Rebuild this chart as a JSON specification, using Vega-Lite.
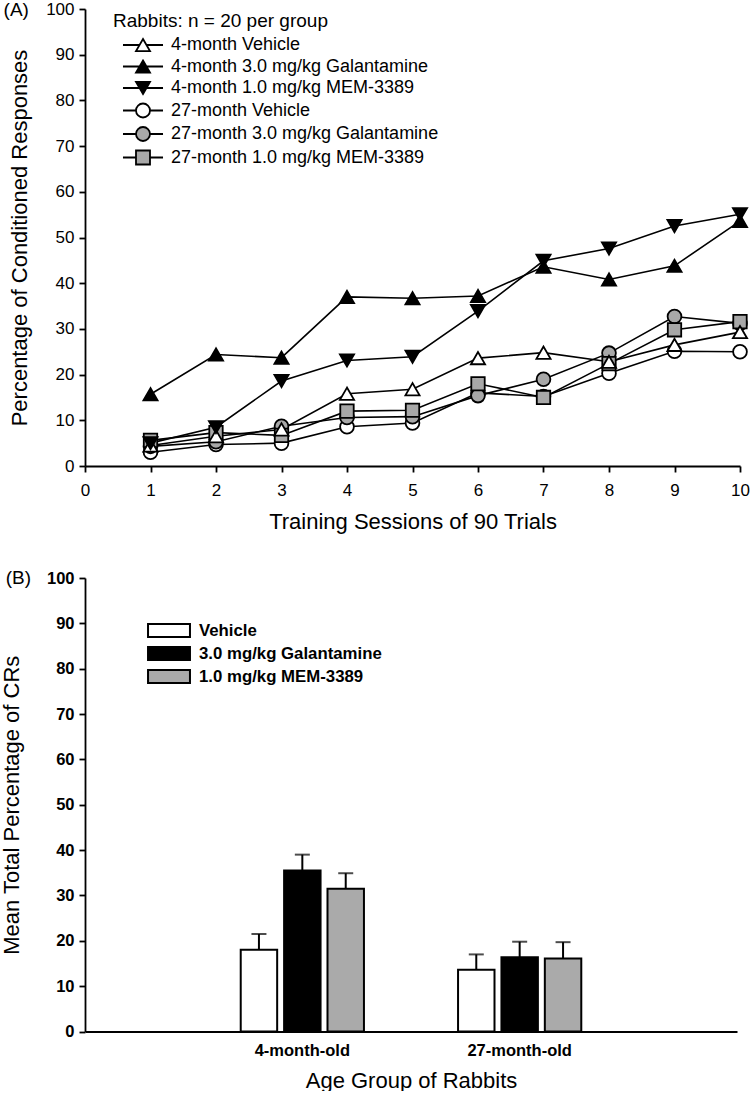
{
  "$schema": "https://vega.github.io/schema/vega-lite/v6.json",
  "background": "white",
  "padding": {"left": 0, "top": 0, "right": 0, "bottom": 0},
  "spacing": 37,
  "resolve": {"scale": {"shape": "independent", "fill": "independent", "stroke": "independent"}, "legend": {"shape": "independent", "fill": "independent", "stroke": "independent"}},
  "datasets": {
    "legendA": [
      {"series": "4-month Vehicle"},
      {"series": "4-month 3.0 mg/kg Galantamine"},
      {"series": "4-month 1.0 mg/kg  MEM-3389"},
      {"series": "27-month Vehicle"},
      {"series": "27-month 3.0 mg/kg Galantamine"},
      {"series": "27-month 1.0 mg/kg MEM-3389"}
    ],
    "sessions": [
      {"session": 1, "group": "4-month Vehicle", "pct": 4.5},
      {"session": 2, "group": "4-month Vehicle", "pct": 6.5},
      {"session": 3, "group": "4-month Vehicle", "pct": 8.0},
      {"session": 4, "group": "4-month Vehicle", "pct": 15.8},
      {"session": 5, "group": "4-month Vehicle", "pct": 16.8},
      {"session": 6, "group": "4-month Vehicle", "pct": 23.6},
      {"session": 7, "group": "4-month Vehicle", "pct": 24.8},
      {"session": 8, "group": "4-month Vehicle", "pct": 22.8},
      {"session": 9, "group": "4-month Vehicle", "pct": 26.5},
      {"session": 10, "group": "4-month Vehicle", "pct": 29.3},
      {"session": 1, "group": "27-month Vehicle", "pct": 3.0},
      {"session": 2, "group": "27-month Vehicle", "pct": 4.7},
      {"session": 3, "group": "27-month Vehicle", "pct": 5.0},
      {"session": 4, "group": "27-month Vehicle", "pct": 8.6},
      {"session": 5, "group": "27-month Vehicle", "pct": 9.4},
      {"session": 6, "group": "27-month Vehicle", "pct": 16.0},
      {"session": 7, "group": "27-month Vehicle", "pct": 15.2},
      {"session": 8, "group": "27-month Vehicle", "pct": 20.3},
      {"session": 9, "group": "27-month Vehicle", "pct": 25.1},
      {"session": 10, "group": "27-month Vehicle", "pct": 25.0},
      {"session": 1, "group": "27-month 3.0 mg/kg Galantamine", "pct": 4.3},
      {"session": 2, "group": "27-month 3.0 mg/kg Galantamine", "pct": 5.3},
      {"session": 3, "group": "27-month 3.0 mg/kg Galantamine", "pct": 8.7},
      {"session": 4, "group": "27-month 3.0 mg/kg Galantamine", "pct": 10.6},
      {"session": 5, "group": "27-month 3.0 mg/kg Galantamine", "pct": 10.8},
      {"session": 6, "group": "27-month 3.0 mg/kg Galantamine", "pct": 15.4},
      {"session": 7, "group": "27-month 3.0 mg/kg Galantamine", "pct": 19.0},
      {"session": 8, "group": "27-month 3.0 mg/kg Galantamine", "pct": 24.7},
      {"session": 9, "group": "27-month 3.0 mg/kg Galantamine", "pct": 32.7},
      {"session": 10, "group": "27-month 3.0 mg/kg Galantamine", "pct": 31.2},
      {"session": 1, "group": "27-month 1.0 mg/kg MEM-3389", "pct": 5.6},
      {"session": 2, "group": "27-month 1.0 mg/kg MEM-3389", "pct": 7.3},
      {"session": 3, "group": "27-month 1.0 mg/kg MEM-3389", "pct": 6.7},
      {"session": 4, "group": "27-month 1.0 mg/kg MEM-3389", "pct": 12.0},
      {"session": 5, "group": "27-month 1.0 mg/kg MEM-3389", "pct": 12.2},
      {"session": 6, "group": "27-month 1.0 mg/kg MEM-3389", "pct": 18.0},
      {"session": 7, "group": "27-month 1.0 mg/kg MEM-3389", "pct": 15.0},
      {"session": 8, "group": "27-month 1.0 mg/kg MEM-3389", "pct": 22.4},
      {"session": 9, "group": "27-month 1.0 mg/kg MEM-3389", "pct": 29.8},
      {"session": 10, "group": "27-month 1.0 mg/kg MEM-3389", "pct": 31.6},
      {"session": 1, "group": "4-month 3.0 mg/kg Galantamine", "pct": 15.7},
      {"session": 2, "group": "4-month 3.0 mg/kg Galantamine", "pct": 24.4},
      {"session": 3, "group": "4-month 3.0 mg/kg Galantamine", "pct": 23.7},
      {"session": 4, "group": "4-month 3.0 mg/kg Galantamine", "pct": 37.0},
      {"session": 5, "group": "4-month 3.0 mg/kg Galantamine", "pct": 36.7},
      {"session": 6, "group": "4-month 3.0 mg/kg Galantamine", "pct": 37.2},
      {"session": 7, "group": "4-month 3.0 mg/kg Galantamine", "pct": 43.6},
      {"session": 8, "group": "4-month 3.0 mg/kg Galantamine", "pct": 40.8},
      {"session": 9, "group": "4-month 3.0 mg/kg Galantamine", "pct": 43.8},
      {"session": 10, "group": "4-month 3.0 mg/kg Galantamine", "pct": 53.6},
      {"session": 1, "group": "4-month 1.0 mg/kg  MEM-3389", "pct": 5.0},
      {"session": 2, "group": "4-month 1.0 mg/kg  MEM-3389", "pct": 8.5},
      {"session": 3, "group": "4-month 1.0 mg/kg  MEM-3389", "pct": 18.6},
      {"session": 4, "group": "4-month 1.0 mg/kg  MEM-3389", "pct": 23.1},
      {"session": 5, "group": "4-month 1.0 mg/kg  MEM-3389", "pct": 23.9},
      {"session": 6, "group": "4-month 1.0 mg/kg  MEM-3389", "pct": 33.9},
      {"session": 7, "group": "4-month 1.0 mg/kg  MEM-3389", "pct": 44.9},
      {"session": 8, "group": "4-month 1.0 mg/kg  MEM-3389", "pct": 47.6},
      {"session": 9, "group": "4-month 1.0 mg/kg  MEM-3389", "pct": 52.5},
      {"session": 10, "group": "4-month 1.0 mg/kg  MEM-3389", "pct": 55.1}
    ],
    "totals": [
      {"age": "4-month-old", "treatment": "Vehicle", "mean": 18.0, "upper": 21.5},
      {"age": "4-month-old", "treatment": "3.0 mg/kg Galantamine", "mean": 35.5, "upper": 39.0},
      {"age": "4-month-old", "treatment": "1.0 mg/kg MEM-3389", "mean": 31.5, "upper": 34.9},
      {"age": "27-month-old", "treatment": "Vehicle", "mean": 13.6, "upper": 17.0},
      {"age": "27-month-old", "treatment": "3.0 mg/kg Galantamine", "mean": 16.4, "upper": 19.8},
      {"age": "27-month-old", "treatment": "1.0 mg/kg MEM-3389", "mean": 16.1, "upper": 19.7}
    ]
  },
  "vconcat": [
    {
      "width": 655,
      "height": 457,
      "encoding": {
        "x": {"field": "session", "type": "quantitative",
          "scale": {"domain": [0, 10], "nice": false, "zero": false},
          "axis": {"values": [0,1,2,3,4,5,6,7,8,9,10], "labelFlush": false, "labelOverlap": false, "labelPadding": 10, "titlePadding": 13, "title": "Training Sessions of 90 Trials"}},
        "y": {"field": "pct", "type": "quantitative",
          "scale": {"domain": [0, 100], "nice": false},
          "axis": {"values": [0,10,20,30,40,50,60,70,80,90,100], "labelPadding": 5, "titlePadding": 14, "title": "Percentage of Conditioned Responses"}}
      },
      "layer": [
        {
          "data": {"name": "sessions"},
          "mark": {"type": "line", "stroke": "black", "strokeWidth": 1.6},
          "encoding": {"detail": {"field": "group"}}
        },
        {
          "data": {"name": "sessions"},
          "transform": [{"filter": {"field": "group", "equal": "27-month Vehicle"}}],
          "mark": {"type": "point", "shape": "circle", "filled": true, "fill": "white", "stroke": "black", "strokeWidth": 1.8, "size": 190, "opacity": 1}
        },
        {
          "data": {"name": "sessions"},
          "transform": [{"filter": {"field": "group", "equal": "27-month 3.0 mg/kg Galantamine"}}],
          "mark": {"type": "point", "shape": "circle", "filled": true, "fill": "#a8a8a8", "stroke": "black", "strokeWidth": 1.8, "size": 190, "opacity": 1}
        },
        {
          "data": {"name": "sessions"},
          "transform": [{"filter": {"field": "group", "equal": "27-month 1.0 mg/kg MEM-3389"}}],
          "mark": {"type": "point", "shape": "square", "filled": true, "fill": "#a8a8a8", "stroke": "black", "strokeWidth": 1.8, "size": 180, "opacity": 1}
        },
        {
          "data": {"name": "sessions"},
          "transform": [{"filter": {"field": "group", "equal": "4-month Vehicle"}}],
          "mark": {"type": "point", "shape": "triangle-up", "filled": true, "fill": "white", "stroke": "black", "strokeWidth": 1.8, "size": 200, "opacity": 1}
        },
        {
          "data": {"name": "sessions"},
          "transform": [{"filter": {"field": "group", "equal": "4-month 3.0 mg/kg Galantamine"}}],
          "mark": {"type": "point", "shape": "triangle-up", "filled": true, "fill": "black", "stroke": "black", "strokeWidth": 1.8, "size": 200, "opacity": 1}
        },
        {
          "data": {"name": "sessions"},
          "transform": [{"filter": {"field": "group", "equal": "4-month 1.0 mg/kg  MEM-3389"}}],
          "mark": {"type": "point", "shape": "triangle-down", "filled": true, "fill": "black", "stroke": "black", "strokeWidth": 1.8, "size": 200, "opacity": 1}
        },
        {
          "data": {"name": "legendA"},
          "mark": {"type": "point", "filled": true, "strokeWidth": 1.8, "size": 196, "opacity": 1},
          "encoding": {
            "shape": {"field": "series", "type": "nominal",
              "scale": {"domain": ["4-month Vehicle", "4-month 3.0 mg/kg Galantamine", "4-month 1.0 mg/kg  MEM-3389", "27-month Vehicle", "27-month 3.0 mg/kg Galantamine", "27-month 1.0 mg/kg MEM-3389"],
                "range": [
                  "M-2.86,0H-0.5M0.5,0H2.86M0,-0.866L1,0.866L-1,0.866Z",
                  "M-2.86,0H-0.5M0.5,0H2.86M0,-0.866L1,0.866L-1,0.866Z",
                  "M-2.86,0H-0.5M0.5,0H2.86M0,0.866L1,-0.866L-1,-0.866Z",
                  "M-2.86,0H-1M1,0H2.86M1,0A1,1 0 1,1 -1,0A1,1 0 1,1 1,0Z",
                  "M-2.86,0H-1M1,0H2.86M1,0A1,1 0 1,1 -1,0A1,1 0 1,1 1,0Z",
                  "M-2.86,0H-1M1,0H2.86M-1,-1H1V1H-1Z"
                ]},
              "legend": {"title": "Rabbits: n = 20 per group", "orient": "none", "legendX": 28, "legendY": 3, "padding": 0,
                "titleFontSize": 19, "titleFontWeight": "normal", "titlePadding": 5, "titleLimit": 500, "labelFontSize": 18,
                "symbolSize": 196, "symbolStrokeWidth": 1.8, "symbolOffset": 21, "labelOffset": 19, "rowPadding": 1.5}},
            "fill": {"field": "series", "type": "nominal",
              "scale": {"domain": ["4-month Vehicle", "4-month 3.0 mg/kg Galantamine", "4-month 1.0 mg/kg  MEM-3389", "27-month Vehicle", "27-month 3.0 mg/kg Galantamine", "27-month 1.0 mg/kg MEM-3389"],
                "range": ["white", "black", "black", "white", "#a8a8a8", "#a8a8a8"]},
              "legend": {"title": "Rabbits: n = 20 per group", "orient": "none", "legendX": 28, "legendY": 3, "padding": 0,
                "titleFontSize": 19, "titleFontWeight": "normal", "titlePadding": 5, "titleLimit": 500, "labelFontSize": 18,
                "symbolSize": 196, "symbolStrokeWidth": 1.8, "symbolOffset": 21, "labelOffset": 19, "rowPadding": 1.5}},
            "stroke": {"field": "series", "type": "nominal",
              "scale": {"domain": ["4-month Vehicle", "4-month 3.0 mg/kg Galantamine", "4-month 1.0 mg/kg  MEM-3389", "27-month Vehicle", "27-month 3.0 mg/kg Galantamine", "27-month 1.0 mg/kg MEM-3389"],
                "range": ["black", "black", "black", "black", "black", "black"]},
              "legend": {"title": "Rabbits: n = 20 per group", "orient": "none", "legendX": 28, "legendY": 3, "padding": 0,
                "titleFontSize": 19, "titleFontWeight": "normal", "titlePadding": 5, "titleLimit": 500, "labelFontSize": 18,
                "symbolSize": 196, "symbolStrokeWidth": 1.8, "symbolOffset": 21, "labelOffset": 19, "rowPadding": 1.5}}
          }
        },
        {
          "data": {"name": "sessions"},
          "transform": [{"filter": {"field": "group", "equal": "4-month Vehicle"}}, {"filter": {"field": "session", "equal": 1}}],
          "mark": {"type": "text", "fontSize": 19, "fontWeight": "normal", "align": "center", "baseline": "middle", "color": "black", "dy": 1},
          "encoding": {"x": {"datum": -1.05}, "y": {"datum": 100}, "text": {"value": "(A)"}}
        }
      ]
    },
    {
      "width": 652,
      "height": 453.5,
      "data": {"name": "totals"},
      "encoding": {
        "x": {"field": "age", "type": "nominal", "sort": ["4-month-old", "27-month-old"],
          "scale": {"paddingInner": 0.433, "paddingOuter": 0.7165},
          "axis": {"labelAngle": 0, "ticks": false, "labelPadding": 11, "labelFontWeight": "bold", "labelFontSize": 16.5, "titlePadding": 11, "title": "Age Group of Rabbits"}},
        "y": {"field": "mean", "type": "quantitative",
          "scale": {"domain": [0, 100], "nice": false},
          "axis": {"values": [0,10,20,30,40,50,60,70,80,90,100], "labelFontWeight": "bold", "labelFontSize": 16.5, "labelPadding": 5, "titlePadding": 23, "title": "Mean Total Percentage of CRs"}}
      },
      "layer": [
        {
          "mark": {"type": "bar", "stroke": "black", "strokeWidth": 2},
          "encoding": {
            "xOffset": {"field": "treatment", "type": "nominal", "sort": ["Vehicle", "3.0 mg/kg Galantamine", "1.0 mg/kg MEM-3389"],
              "scale": {"paddingInner": 0.16, "paddingOuter": 0}},
            "fill": {"field": "treatment", "type": "nominal",
              "scale": {"domain": ["Vehicle", "3.0 mg/kg Galantamine", "1.0 mg/kg MEM-3389"], "range": ["white", "black", "#aaaaaa"]},
              "legend": {"title": null, "orient": "none", "legendX": 63, "legendY": 42.5, "padding": 0,
                "symbolType": "M-2.33,-0.72H2.33V0.72H-2.33Z", "symbolSize": 324, "symbolStrokeColor": "black", "symbolStrokeWidth": 2,
                "labelFontSize": 16.8, "labelFontWeight": "bold", "symbolOffset": 11, "labelOffset": 20, "rowPadding": 1}}
          }
        },
        {
          "mark": {"type": "rule", "stroke": "black", "strokeWidth": 2},
          "encoding": {
            "xOffset": {"field": "treatment", "type": "nominal", "sort": ["Vehicle", "3.0 mg/kg Galantamine", "1.0 mg/kg MEM-3389"]},
            "y2": {"field": "upper"}
          }
        },
        {
          "mark": {"type": "tick", "color": "black", "thickness": 2, "size": 15, "orient": "horizontal"},
          "encoding": {
            "xOffset": {"field": "treatment", "type": "nominal", "sort": ["Vehicle", "3.0 mg/kg Galantamine", "1.0 mg/kg MEM-3389"]},
            "y": {"field": "upper", "type": "quantitative"}
          }
        },
        {
          "transform": [{"filter": {"field": "treatment", "equal": "Vehicle"}}, {"filter": {"field": "age", "equal": "4-month-old"}}],
          "mark": {"type": "text", "fontSize": 19, "fontWeight": "normal", "align": "center", "baseline": "middle", "color": "black", "dx": -284},
          "encoding": {"x": {"datum": "4-month-old"}, "y": {"datum": 100}, "text": {"value": "(B)"}}
        }
      ]
    }
  ],
  "config": {
    "font": "Liberation Sans",
    "view": {"stroke": null},
    "axis": {"grid": false, "domainColor": "black", "domainWidth": 1.8, "tickColor": "black", "tickWidth": 1.8, "tickSize": 6,
      "labelColor": "black", "labelFontSize": 17, "labelFont": "Liberation Sans",
      "titleColor": "black", "titleFont": "Liberation Sans", "titleFontSize": 22, "titleFontWeight": "normal"},
    "legend": {"labelColor": "black", "titleColor": "black", "labelFont": "Liberation Sans", "titleFont": "Liberation Sans", "labelLimit": 400}
  }
}
